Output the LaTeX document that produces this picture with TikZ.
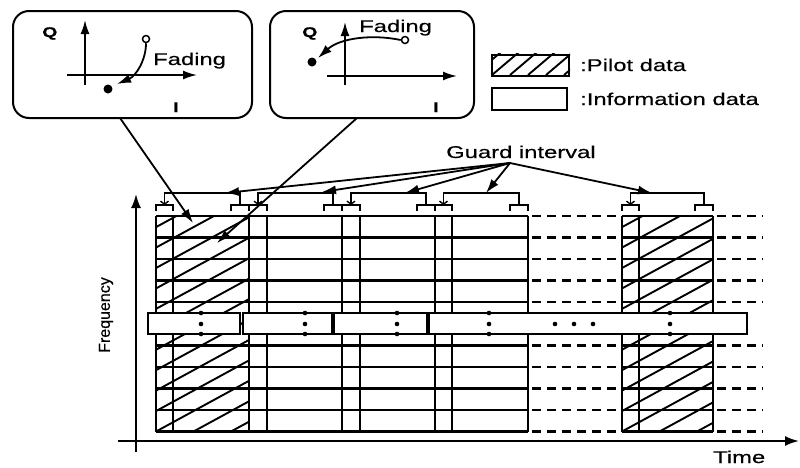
\documentclass[tikz,border=0pt]{standalone}
\usepackage{fontspec}
\setmainfont{Liberation Sans}[FakeStretch=1.4,FakeBold=0.5]
\newfontfamily\plainsans{Liberation Sans}[FakeBold=0.5]
\usetikzlibrary{arrows.meta}
\begin{document}
\begin{tikzpicture}[x=1pt,y=-1pt,line join=miter,
  thick line/.style={line width=2.1pt},
  hatchln/.style={line width=1.9pt},
  dashedgrid/.style={line width=2.1pt,dash pattern=on 9pt off 6pt},
  bigtip/.style={line width=1.8pt,-{Latex[length=14pt,width=9pt]}},
  smalltip/.style={line width=1.8pt,-{Straight Barb[length=3pt,width=8pt,line width=1.4pt]}},
  bubble/.style={draw,line width=2pt,rounded corners=16pt,inner sep=0pt},
  legbox/.style={draw,line width=2pt,inner sep=0pt,minimum width=77pt,minimum height=21pt},
  lbl/.style={inner sep=0pt,font=\fontsize{17}{19}\selectfont},
  axlbl/.style={inner sep=0pt,font=\fontsize{14}{16}\selectfont\bfseries},
  bandbox/.style={draw,fill=white,line width=2.1pt},
  dotm/.style={fill=black,circle,inner sep=0pt,minimum size=4.6pt}
]
\useasboundingbox (0,0) rectangle (800,467);

% ---------- bubbles ----------
\node[bubble,minimum width=239pt,minimum height=107pt] (boxL) at (132.5,64.5) {};
\node[bubble,minimum width=204pt,minimum height=107pt] (boxR) at (372,64.5) {};

% left bubble content
\coordinate (lQb) at (85,85); \coordinate (lQt) at (85,20);
\coordinate (lIb) at (67,75); \coordinate (lIt) at (197,75);
\draw[bigtip] (lQb) -- (lQt);
\draw[bigtip] (lIb) -- (lIt);
\node[axlbl,anchor=base west] (lQ) at (42,37) {Q};
\node[axlbl,anchor=base west] (lI) at (173,112) {I};
\node[draw,circle,line width=1.5pt,inner sep=0pt,minimum size=7pt,fill=white] (lopen) at (146,39) {};
\node[dotm,minimum size=9pt] (ldot) at (108,89) {};
\draw[bigtip] (lopen.south) .. controls (146,60) and (136,76) .. (117,84);
\node[lbl,anchor=base west] (lfad) at (153,65) {Fading};

% right bubble content
\coordinate (rQb) at (345,85); \coordinate (rQt) at (345,22);
\coordinate (rIb) at (327,76); \coordinate (rIt) at (457,76);
\draw[bigtip] (rQb) -- (rQt);
\draw[bigtip] (rIb) -- (rIt);
\node[axlbl,anchor=base west] (rQ) at (302,37) {Q};
\node[axlbl,anchor=base west] (rI) at (433,112) {I};
\node[draw,circle,line width=1.5pt,inner sep=0pt,minimum size=7pt,fill=white] (ropen) at (405,40) {};
\node[dotm,minimum size=9pt] (rdot) at (312,62) {};
\draw[bigtip] (ropen.west) .. controls (372,34) and (340,38) .. (318,58);
\node[lbl,anchor=base west] (rfad) at (359,32) {Fading};

% ---------- legend ----------
\node[legbox] (legP) at (530.5,65) {};
\begin{scope}
  \clip (legP.south west) rectangle (legP.north east);
  \foreach \k in {-2,...,5}
    \draw[hatchln] (492+\k*18,75) -- ++(40,-34);
\end{scope}
\node[legbox,minimum width=75pt,minimum height=22pt] (legI) at (529.5,99) {};
\node[lbl,anchor=base west] (legPt) at (580,71) {:Pilot data};
\node[lbl,anchor=base west] (legIt) at (580,105) {:Information data};

% ---------- hatching of pilot symbols ----------
\begin{scope}
  \clip (156,216) rectangle (249,431.5);
  \foreach \k in {-11,...,3}
    \draw[hatchln] (156+\k*37.5,431.5) -- ++(700,-381.5);
\end{scope}
\begin{scope}
  \clip (622,216) rectangle (713,431.5);
  \foreach \k in {-11,...,3}
    \draw[hatchln] (622+\k*37.5,431.5) -- ++(700,-381.5);
\end{scope}

% ---------- grid ----------
\foreach \yy in {216,237.5,259,280.5,302,345.5,367,388.5,410,431.5}{
  \draw[thick line] (156,\yy) -- (528,\yy);
  \draw[dashedgrid] (532,\yy) -- (620,\yy);
  \draw[thick line] (622,\yy) -- (713,\yy);
  \draw[dashedgrid] (717,\yy) -- (763,\yy);
}
\foreach \xx in {156,173,249,267,342,360,435,452,528,622,639,713}
  \draw[thick line] (\xx,216) -- (\xx,431.5);

% ---------- band ----------
\draw[bandbox] (148,313) rectangle (240,334);
\draw[bandbox] (243,313) rectangle (332,334);
\draw[bandbox] (334,313) rectangle (427,334);
\draw[bandbox] (429,313) rectangle (747,334);
\foreach \xx in {201,305,397,489,670}
  \foreach \yy in {313,324,334}
    \node[dotm] at (\xx,\yy) {};
\foreach \xx in {555,574,593}
  \node[dotm] at (\xx,324) {};

% ---------- guard interval brackets ----------
\foreach \ga/\gb/\ta/\tb in {156/173/231/249, 249/267/324/342, 342/360/417/435, 435/452/510/528, 622/639/695/713}{
  \draw[line width=1.8pt] (\ga,211) -- (\ga,205) -- (\gb,205) -- (\gb,211);
  \draw[line width=1.8pt] (\ta,211) -- (\ta,205) -- (\tb,205) -- (\tb,211);
  \draw[smalltip] ({(\ta+\tb)/2},205) -- ({(\ta+\tb)/2},193) -- ({(\ga+\gb)/2},193) -- ({(\ga+\gb)/2},205);
}

% ---------- guard interval label and arrows ----------
\node[lbl,anchor=base west] (gi) at (446,158) {Guard interval};
\coordinate (gio) at (510,163);
\coordinate (t1) at (225,193);
\coordinate (t2) at (322,192);
\coordinate (t3) at (405,193);
\coordinate (t4) at (486,193);
\coordinate (t5) at (652,193);
\foreach \t in {t1,t2,t3,t4,t5}
  \draw[bigtip] (gio) -- (\t);

% ---------- fading pointers ----------
\coordinate (fl0) at (120,118);
\coordinate (fl1) at (193,223);
\coordinate (fr0) at (357,118);
\coordinate (fr1) at (217,243);
\draw[bigtip] (fl0) -- (fl1);
\draw[bigtip] (fr0) -- (fr1);

% ---------- main axes ----------
\coordinate (fb) at (136,452); \coordinate (ft) at (136,194);
\coordinate (tl) at (118,441); \coordinate (tr) at (799,441);
\draw[line width=2pt,-{Latex[length=14pt,width=10pt]}] (fb) -- (ft);
\draw[line width=2pt,-{Latex[length=14pt,width=10pt]}] (tl) -- (tr);
\node[inner sep=0pt,rotate=90,font=\plainsans\fontsize{16}{18}\selectfont] (freq) at (106,315) {Frequency};
\node[lbl,anchor=base west] (time) at (713,463) {Time};
\end{tikzpicture}
\end{document}
